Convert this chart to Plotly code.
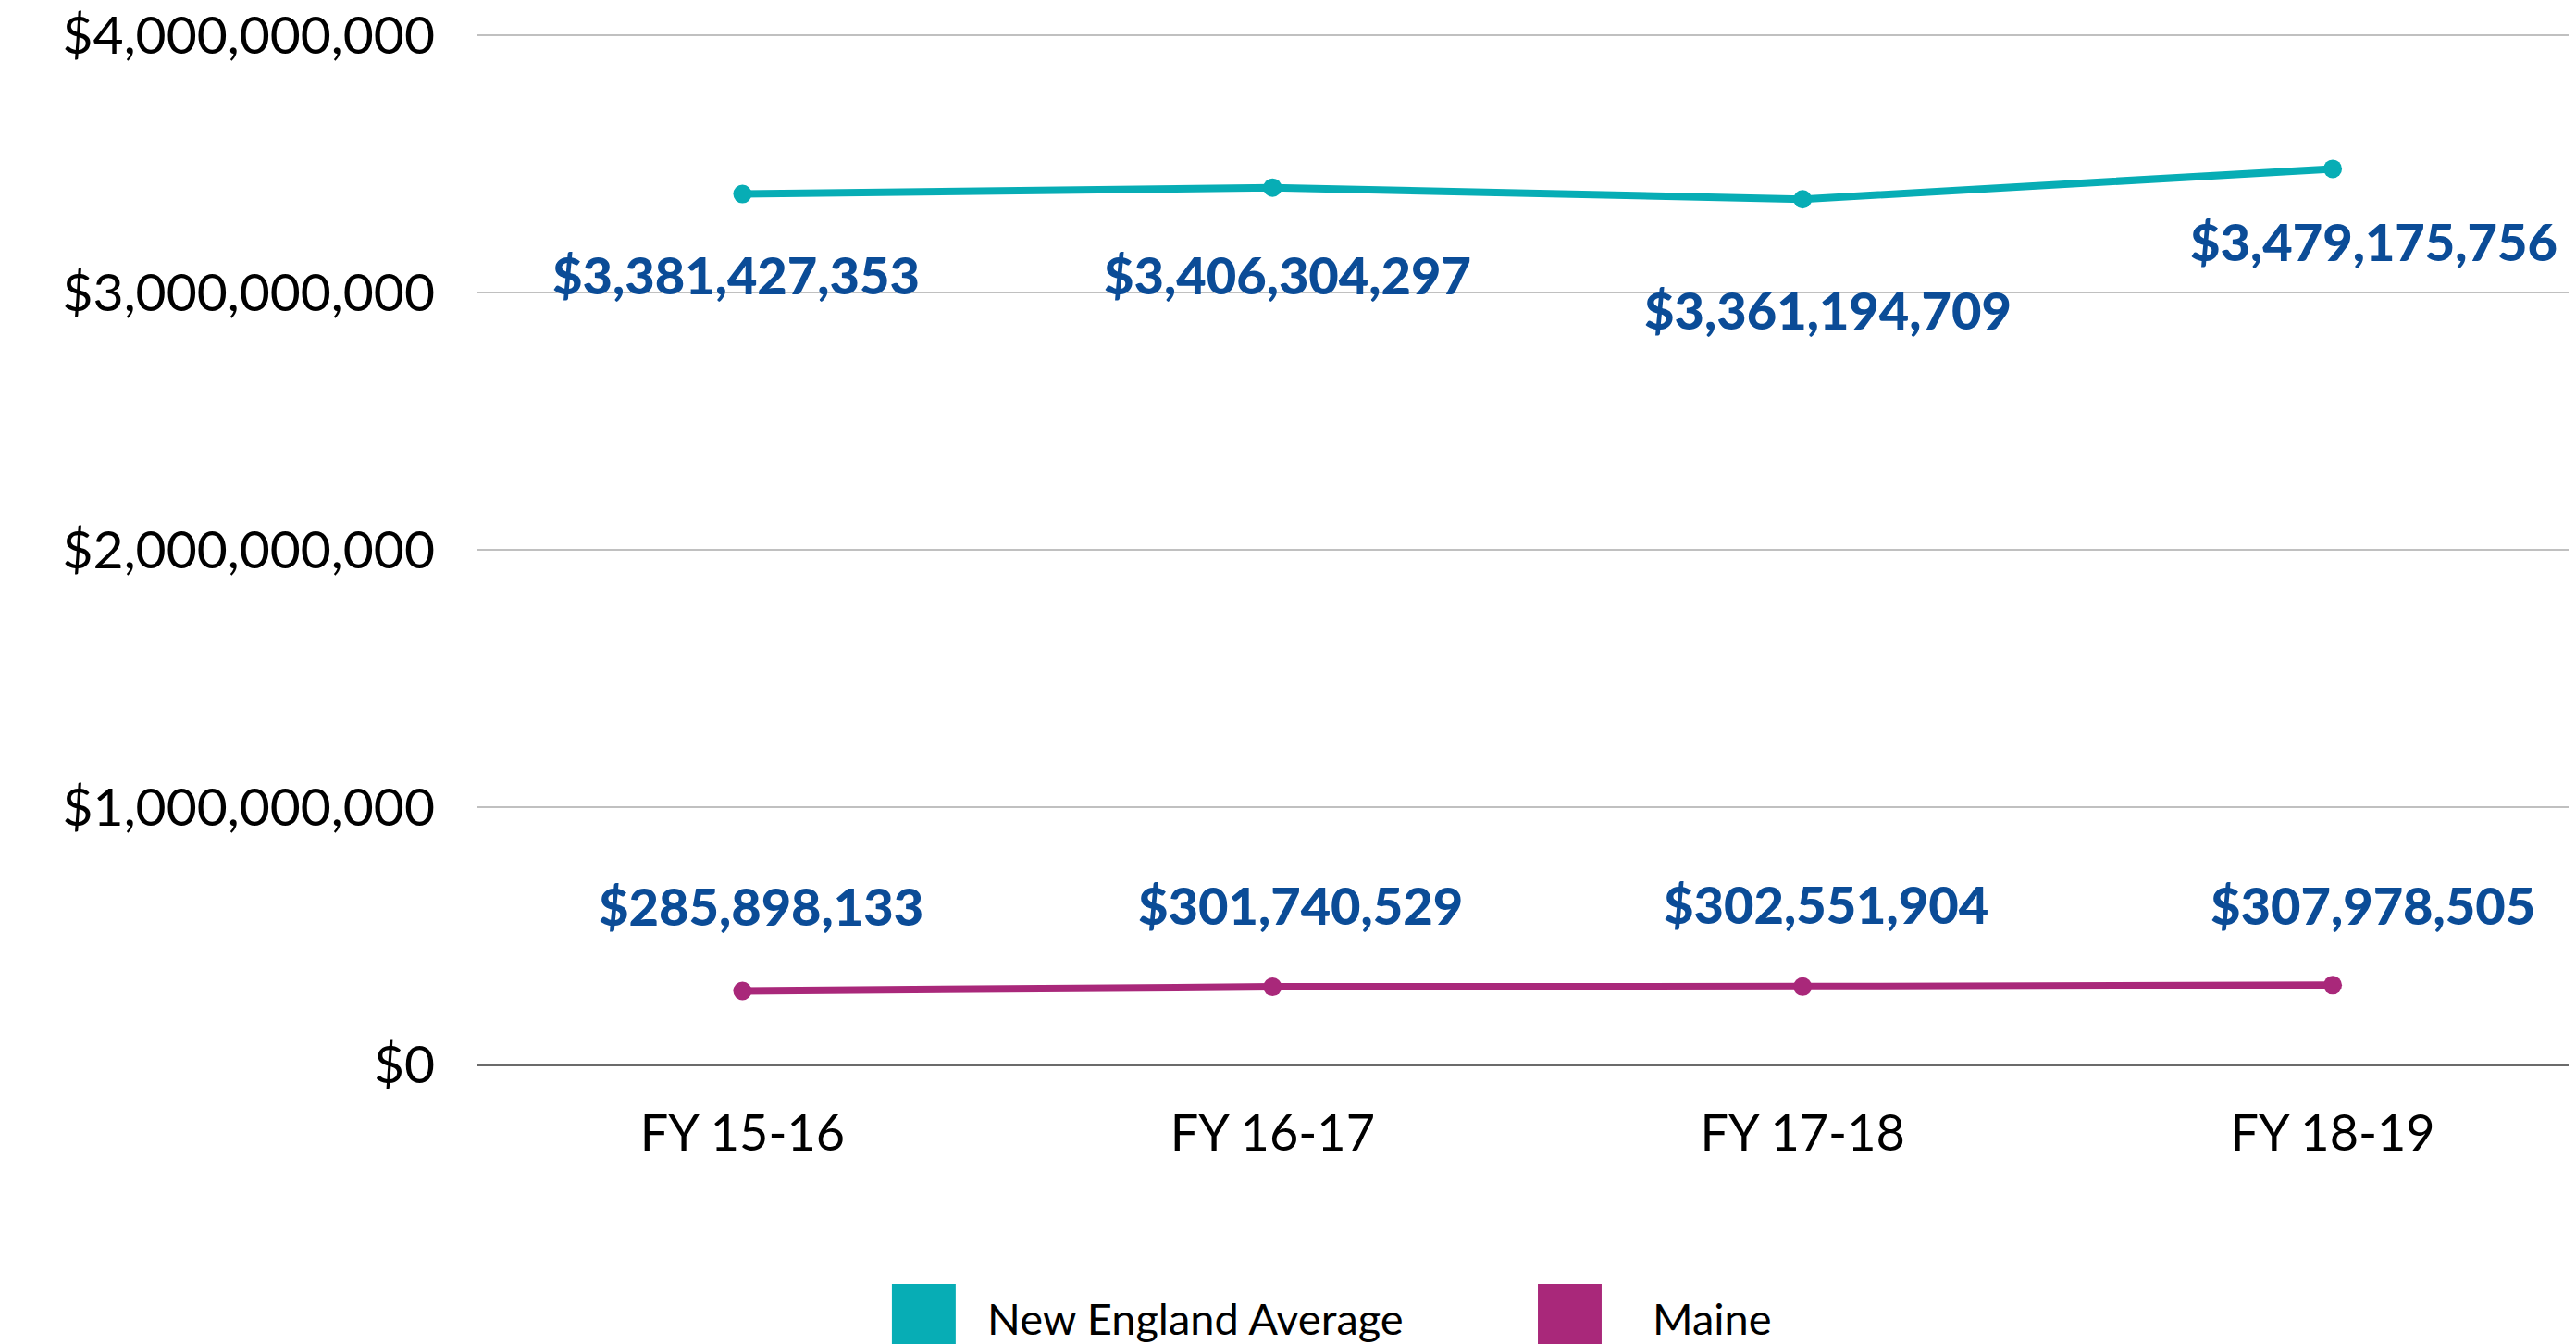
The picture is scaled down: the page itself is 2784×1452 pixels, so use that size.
import plotly.graph_objects as go

categories = ["FY 15-16", "FY 16-17", "FY 17-18", "FY 18-19"]
new_england = [3381427353, 3406304297, 3361194709, 3479175756]
maine = [285898133, 301740529, 302551904, 307978505]
y_ticks = [0, 1000000000, 2000000000, 3000000000, 4000000000]
y_tick_labels = ["$0", "$1,000,000,000", "$2,000,000,000", "$3,000,000,000", "$4,000,000,000"]

TEAL = "#07ADB5"
MAGENTA = "#A9287A"
LABEL_BLUE = "#0B4C97"
FONT = "Lato"

# label offsets (pixels) per point: (xshift, yshift)
ne_offsets = [(-7, -87), (16, -94), (27, -119), (44, -78)]
me_offsets = [(20, 92), (30, 89), (25, 89), (43, 87)]

fig = go.Figure()
fig.add_trace(go.Scatter(x=categories, y=new_england, mode="lines+markers",
                         name="New England Average",
                         line=dict(color=TEAL, width=8),
                         marker=dict(color=TEAL, size=20), showlegend=False))
fig.add_trace(go.Scatter(x=categories, y=maine, mode="lines+markers",
                         name="Maine",
                         line=dict(color=MAGENTA, width=8),
                         marker=dict(color=MAGENTA, size=20), showlegend=False))

annotations = []
for series, offs in ((new_england, ne_offsets), (maine, me_offsets)):
    for c, v, (dx, dy) in zip(categories, series, offs):
        annotations.append(dict(x=c, y=v, xref="x", yref="y",
                                text=f"${v:,}", showarrow=False,
                                xshift=dx, yshift=dy,
                                font=dict(family=FONT, size=56, color=LABEL_BLUE,
                                          weight=900)))

# manual legend (paper coords relative to plot area)
legend_items = [("New England Average", TEAL, 0.1975, 0.2421),
                ("Maine", MAGENTA, 0.5053, 0.5591)]
shapes = []
for name, col, x0, tx in legend_items:
    shapes.append(dict(type="rect", xref="paper", yref="paper",
                       x0=x0, x1=x0 + 0.0304, y0=-0.2120, y1=-0.33,
                       fillcolor=col, line=dict(width=0)))
    annotations.append(dict(x=tx, y=-0.2451, xref="paper", yref="paper",
                            text=name, showarrow=False, xanchor="left",
                            yanchor="middle",
                            font=dict(family=FONT, size=47, color="#000000")))

# the page body adds an 8px offset, so the figure is 8px smaller
fig.update_layout(
    width=2776, height=1444,
    margin=dict(l=508, r=0, t=24, b=302),
    paper_bgcolor="white", plot_bgcolor="white",
    font=dict(family=FONT, color="#000000"),
    annotations=annotations, shapes=shapes,
    showlegend=False,
)
fig.update_xaxes(type="category", range=[-0.5, 3.459], showgrid=False,
                 showline=False, ticks="", tickfont=dict(size=54),
                 ticklabelstandoff=38, automargin=False)
fig.update_yaxes(range=[0, 4020000000], tickmode="array", tickvals=y_ticks,
                 ticktext=y_tick_labels,
                 showgrid=True, gridcolor="#C0C0C0",
                 gridwidth=2, zeroline=True, zerolinecolor="#6B6B6B",
                 zerolinewidth=3, showline=False, ticks="",
                 tickfont=dict(size=57), ticklabelstandoff=45,
                 ticklabeloverflow="allow", automargin=False)

fig.write_html("out.html")
